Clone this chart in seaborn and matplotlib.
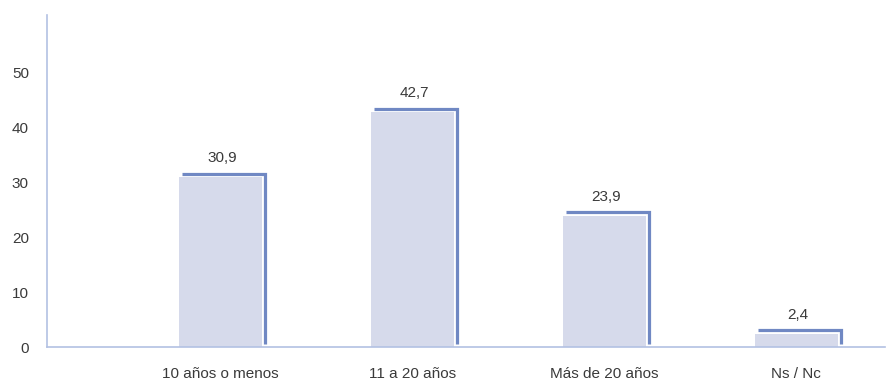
import matplotlib
matplotlib.use("Agg")
import matplotlib.pyplot as plt
from matplotlib.transforms import offset_copy
import seaborn as sns
import pandas as pd

categorias = ["10 años o menos", "11 a 20 años", "Más de 20 años", "Ns / Nc"]
porcentajes = [30.9, 42.7, 23.9, 2.4]
etiquetas = ["30,9", "42,7", "23,9", "2,4"]
ticks_y = [0, 10, 20, 30, 40, 50]

df = pd.DataFrame({"categoria": categorias, "porcentaje": porcentajes})

sns.set_theme(style="white")
plt.rcParams["font.family"] = ["Liberation Sans", "DejaVu Sans"]

relleno = "#d6daeb"
borde = "#7088c3"
eje = "#b3c1e3"
texto = "#3a3a3a"

fig = plt.figure(figsize=(8.86, 3.81), dpi=100)
ax = fig.add_axes([0.053, 0.089, 0.946, 0.872])

sns.barplot(data=df, x="categoria", y="porcentaje", order=categorias,
            color=relleno, saturation=1, width=0.433, ax=ax, linewidth=0)

# L-shaped outline offset up and to the right of each bar
sombra = offset_copy(ax.transData, fig=fig, x=3, y=3.5, units="dots")
for barra, etiqueta in zip(ax.patches, etiquetas):
    x0 = barra.get_x()
    x1 = x0 + barra.get_width()
    alto = barra.get_height()
    ax.plot([x0, x1, x1], [alto, alto, 0], color=borde, lw=2.3,
            transform=sombra, solid_joinstyle="miter", solid_capstyle="butt",
            clip_on=False)
    ax.annotate(etiqueta, (x0 + barra.get_width() / 2, alto),
                xytext=(2, 12), textcoords="offset pixels",
                ha="center", va="bottom", fontsize=11, color=texto)

ax.set_xlim(-0.904, 3.463)
ax.set_ylim(0, 60.4)
ax.set_yticks(ticks_y)
ax.set_xlabel("")
ax.set_ylabel("")

for lado in ["top", "right"]:
    ax.spines[lado].set_visible(False)
for lado in ["left", "bottom"]:
    ax.spines[lado].set_color(eje)
    ax.spines[lado].set_linewidth(1.2)

ax.tick_params(axis="both", length=0, labelsize=11, labelcolor=texto)
ax.tick_params(axis="x", pad=14)
ax.tick_params(axis="y", pad=13)
ax.grid(False)

fig.savefig("out.png", dpi=100)
